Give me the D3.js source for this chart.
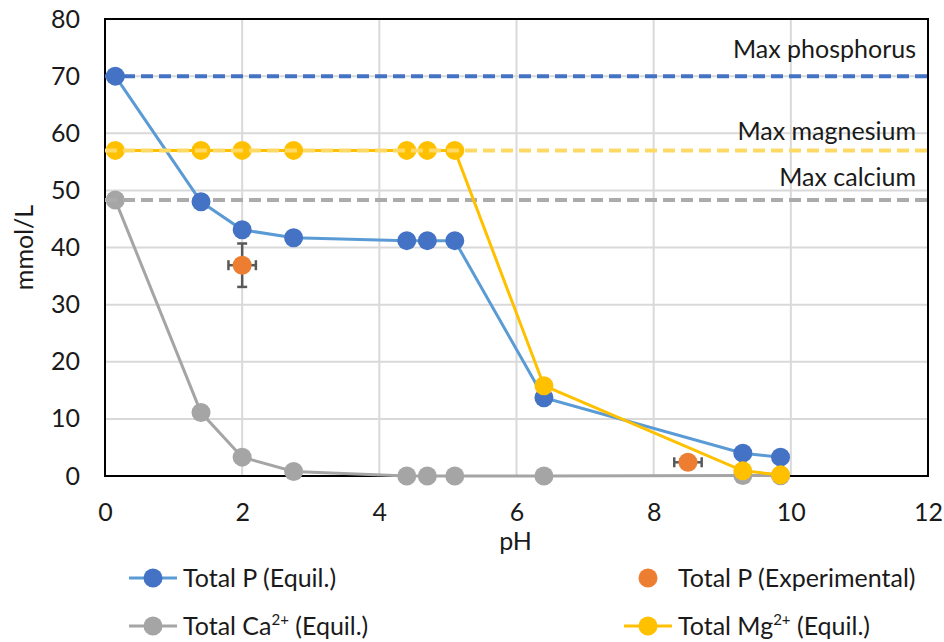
<!DOCTYPE html>
<html>
<head>
<meta charset="utf-8">
<script src="https://cdn.jsdelivr.net/npm/d3@7"></script>
<style>
  html, body { margin: 0; padding: 0; background: #fff; }
  svg text { font-family: Lato, "Open Sans", sans-serif; fill: #1a1a1a; }
</style>
</head>
<body>
<svg id="chart" width="944" height="642"></svg>
<script>
// Equilibrium model results vs pH
const pH       = [0.15, 1.4, 2.0, 2.75, 4.4, 4.7, 5.1, 6.4, 9.3, 9.85];
const totalP   = [70, 48, 43.1, 41.7, 41.2, 41.2, 41.2, 13.7, 4.0, 3.3];
const totalCa  = [48.3, 11.1, 3.3, 0.8, 0, 0, 0, 0, 0.1, 0.05];
const totalMg  = [57, 57, 57, 57, 57, 57, 57, 15.8, 0.9, 0.2];

// Measured total P with error bars
const expPH    = [2.0, 8.5];
const expP     = [36.9, 2.4];
const expXErr  = [0.2, 0.2];
const expYErr  = [3.8, 0];

// Maximum (total added) concentrations
const maxNames  = ["Max phosphorus", "Max magnesium", "Max calcium"];
const maxValues = [70, 57, 48.3];

const xTicks = [0, 2, 4, 6, 8, 10, 12];
const yTicks = [0, 10, 20, 30, 40, 50, 60, 70, 80];

const C = {
  pLine: "#5B9BD5", pMark: "#4472C4",
  ca: "#A5A5A5", mg: "#FFC000", exp: "#ED7D31",
  maxP: "#4472C4", maxMg: "#FFD966", maxCa: "#ABABAB",
  grid: "#D9D9D9", err: "#595959"
};

const svg = d3.select("#chart");
const L = 105, R = 928, T = 19, B = 476;
const x = d3.scaleLinear().domain([0, 12]).range([L, R]);
const y = d3.scaleLinear().domain([0, 80]).range([B, T]);
const FS = 25;
const r = 9.5;

// gridlines
const grid = svg.append("g");
grid.selectAll(".gx").data(xTicks.slice(1, -1)).join("line")
  .attr("x1", d => x(d)).attr("x2", d => x(d)).attr("y1", T).attr("y2", B)
  .attr("stroke", C.grid).attr("stroke-width", 2);
grid.selectAll(".gy").data(yTicks.slice(1, -1)).join("line")
  .attr("x1", L).attr("x2", R).attr("y1", d => y(d)).attr("y2", d => y(d))
  .attr("stroke", C.grid).attr("stroke-width", 2);

// axes (labels only; frame drawn separately)
const xAxis = svg.append("g").attr("transform", `translate(0,${B})`)
  .call(d3.axisBottom(x).tickValues(xTicks).tickSize(0).tickPadding(27));
const yAxis = svg.append("g").attr("transform", `translate(${L},0)`)
  .call(d3.axisLeft(y).tickValues(yTicks).tickSize(0).tickPadding(25));
[xAxis, yAxis].forEach(g => {
  g.select(".domain").remove();
  g.selectAll("text").attr("font-size", FS).attr("font-family", "Lato, sans-serif").attr("fill", "#1a1a1a");
});

// plot frame
svg.append("rect").attr("x", L).attr("y", T).attr("width", R - L).attr("height", B - T)
  .attr("fill", "none").attr("stroke", "#000").attr("stroke-width", 2);

// axis titles
svg.append("text").attr("x", (L + R) / 2 - 1).attr("y", 550).attr("text-anchor", "middle")
  .attr("font-size", FS).text("pH");
svg.append("text").attr("transform", `translate(33,${(T + B) / 2}) rotate(-90)`)
  .attr("text-anchor", "middle").attr("font-size", FS).text("mmol/L");

const line = d3.line().x(d => x(d[0])).y(d => y(d[1]));

function series(vals, lineColor, markColor) {
  const pts = pH.map((p, i) => [p, vals[i]]);
  const g = svg.append("g");
  g.append("path").datum(pts).attr("d", line).attr("fill", "none")
    .attr("stroke", lineColor).attr("stroke-width", 3);
  g.selectAll("circle").data(pts).join("circle")
    .attr("cx", d => x(d[0])).attr("cy", d => y(d[1])).attr("r", r).attr("fill", markColor);
}

function maxLine(v, color) {
  svg.append("line").attr("x1", L).attr("x2", R).attr("y1", y(v)).attr("y2", y(v))
    .attr("stroke", color).attr("stroke-width", 4).attr("stroke-dasharray", "12,6");
}

series(totalCa, C.ca, C.ca);
maxLine(maxValues[2], C.maxCa);
series(totalP, C.pLine, C.pMark);
maxLine(maxValues[0], C.maxP);
series(totalMg, C.mg, C.mg);
maxLine(maxValues[1], C.maxMg);

// experimental points with error bars
const eg = svg.append("g");
expPH.forEach((p, i) => {
  const cx = x(p), cy = y(expP[i]);
  if (expYErr[i] > 0) {
    const y1 = y(expP[i] + expYErr[i]), y2 = y(expP[i] - expYErr[i]);
    eg.append("line").attr("x1", cx).attr("x2", cx).attr("y1", y1).attr("y2", y2).attr("stroke", C.err).attr("stroke-width", 2.5);
    [y1, y2].forEach(yy => eg.append("line").attr("x1", cx - 5).attr("x2", cx + 5).attr("y1", yy).attr("y2", yy).attr("stroke", C.err).attr("stroke-width", 2.5));
  }
  const x1 = x(p - expXErr[i]), x2 = x(p + expXErr[i]);
  eg.append("line").attr("x1", x1).attr("x2", x2).attr("y1", cy).attr("y2", cy).attr("stroke", C.err).attr("stroke-width", 2.5);
  [x1, x2].forEach(xx => eg.append("line").attr("x1", xx).attr("x2", xx).attr("y1", cy - 5).attr("y2", cy + 5).attr("stroke", C.err).attr("stroke-width", 2.5));
  eg.append("circle").attr("cx", cx).attr("cy", cy).attr("r", r).attr("fill", C.exp);
});

// labels for maximum lines
const labelY = [58, 140, 186];
maxNames.forEach((n, i) => {
  svg.append("text").attr("x", 916).attr("y", labelY[i]).attr("text-anchor", "end")
    .attr("font-size", FS).text(n);
});

// legend
const legend = [
  { x: 153, y: 578, color: C.pLine, mark: C.pMark, line: true, parts: ["Total P (Equil.)"] },
  { x: 648, y: 578, color: C.exp, mark: C.exp, line: false, parts: ["Total P (Experimental)"] },
  { x: 153, y: 626, color: C.ca, mark: C.ca, line: true, parts: ["Total Ca", "2+", " (Equil.)"] },
  { x: 648, y: 626, color: C.mg, mark: C.mg, line: true, parts: ["Total Mg", "2+", " (Equil.)"] }
];
legend.forEach(d => {
  const g = svg.append("g");
  if (d.line) g.append("line").attr("x1", d.x - 24).attr("x2", d.x + 24).attr("y1", d.y).attr("y2", d.y)
    .attr("stroke", d.color).attr("stroke-width", 3);
  g.append("circle").attr("cx", d.x).attr("cy", d.y).attr("r", r).attr("fill", d.mark);
  const t = g.append("text").attr("x", d.x + 30).attr("y", d.y + 9).attr("font-size", FS);
  t.append("tspan").text(d.parts[0]);
  if (d.parts.length > 1) {
    t.append("tspan").attr("font-size", 15).attr("dy", -10).text(d.parts[1]);
    t.append("tspan").attr("dy", 10).text(d.parts[2]);
  }
});
</script>
</body>
</html>
